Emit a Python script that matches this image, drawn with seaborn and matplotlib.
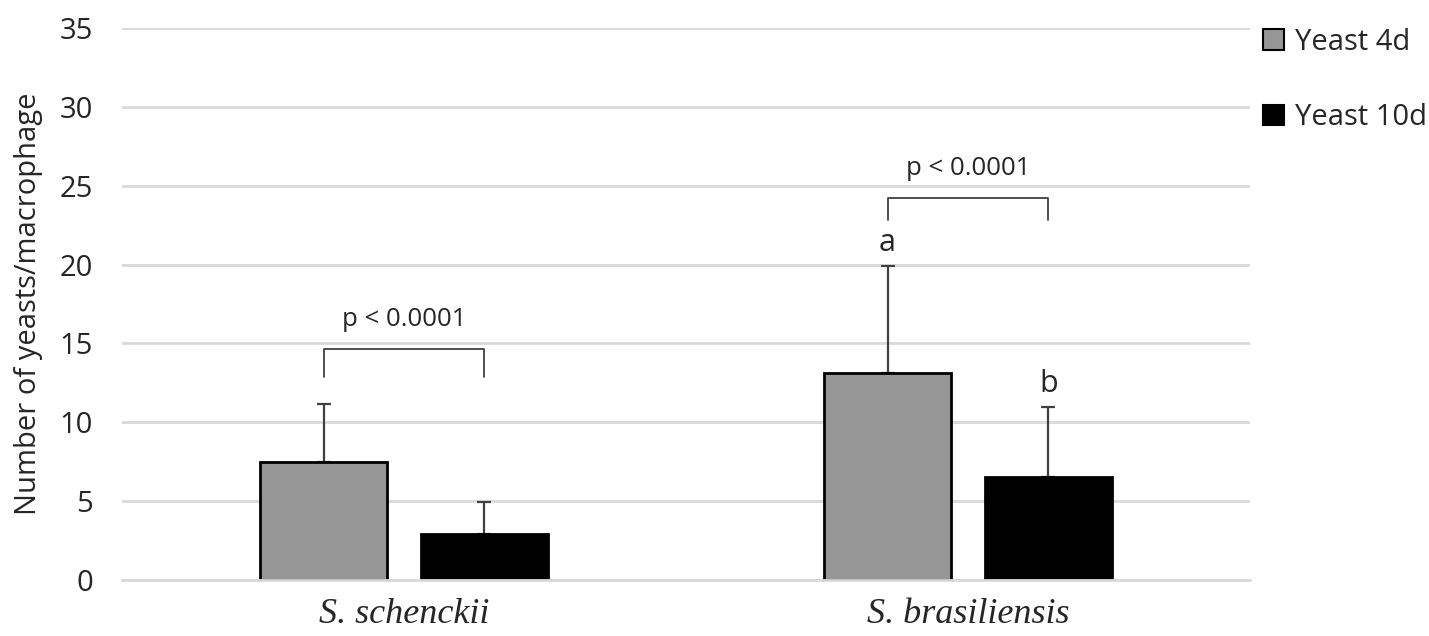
import pandas as pd
import seaborn as sns
import matplotlib
matplotlib.use('Agg')
import matplotlib.pyplot as plt

# values (mean and SD)
especies = ["S. schenckii", "S. brasiliensis"]
fases = ["Yeast 4d", "Yeast 10d"]
media_4d = [7.5, 13.15]
media_10d = [2.9, 6.55]
dp_4d = [3.66, 6.75]
dp_10d = [2.07, 4.4]
letras_4d = ["", "a"]
letras_10d = ["", "b"]
pvalores = ["p < 0.0001", "p < 0.0001"]
chave_base = [12.85, 22.8]   # bottom of bracket legs
chave_topo = [14.65, 24.2]   # bracket top

dados = pd.DataFrame({
    "especie": especies * 2,
    "fase": [fases[0]] * 2 + [fases[1]] * 2,
    "media": media_4d + media_10d,
})

sns.set_style("white")
plt.rcParams['font.family'] = ['Open Sans', 'DejaVu Sans']

fig = plt.figure(figsize=(14.29, 6.36), dpi=100)
ax = fig.add_axes([0.0854, 0.088, 0.7893, 0.868])

sns.barplot(data=dados, x="especie", y="media", hue="fase",
            palette=["#969696", "black"], width=0.57, gap=0.21,
            edgecolor="black", linewidth=2, errorbar=None, ax=ax)

ax.set_ylim(0, 35)
ax.set_xlim(-0.5, 1.5)
ax.set_yticks(range(0, 36, 5))
ax.set_axisbelow(True)
ax.yaxis.grid(True, color="#d9d9d9", linewidth=2)
for lado in ["top", "right", "left"]:
    ax.spines[lado].set_visible(False)
ax.spines["bottom"].set_color("#d9d9d9")
ax.spines["bottom"].set_linewidth(2)

ax.tick_params(axis="y", length=0, pad=21, labelsize=21)
ax.tick_params(axis="x", length=0, pad=13)
for rotulo in ax.get_xticklabels():
    rotulo.set_fontfamily("Liberation Serif")
    rotulo.set_fontstyle("italic")
    rotulo.set_fontsize(26)

ax.set_xlabel("")
ax.set_ylabel("Number of yeasts/macrophage", fontsize=21, labelpad=12)

# error bars (upper only) and letters
centros = []
for cont, dps, letras in zip(ax.containers, [dp_4d, dp_10d], [letras_4d, letras_10d]):
    xs = [b.get_x() + b.get_width() / 2 for b in cont]
    ys = [b.get_height() for b in cont]
    centros.append(xs)
    ax.errorbar(xs, ys, yerr=[[0] * len(dps), dps], fmt="none",
                ecolor="#404040", elinewidth=1.6, capsize=5, capthick=1.6,
                zorder=0.9)
    for x, y, d, l in zip(xs, ys, dps, letras):
        if l:
            ax.text(x, y + d + 0.5, l, ha="center", va="bottom", fontsize=22)

# brackets with p-values
for i in range(len(especies)):
    x1, x2 = centros[0][i], centros[1][i]
    ax.plot([x1, x1, x2, x2], [chave_base[i], chave_topo[i], chave_topo[i], chave_base[i]],
            color="#404040", linewidth=1.3, solid_joinstyle="round")
    ax.text((x1 + x2) / 2, chave_topo[i] + 1.1, pvalores[i], ha="center",
            va="bottom", fontsize=18.5)

ax.get_legend().remove()
handles = [plt.Rectangle((0, 0), 1, 1, facecolor=c, edgecolor="black", linewidth=1.5)
           for c in ["#969696", "black"]]
fig.legend(handles, fases, loc="upper left", bbox_to_anchor=(0.876, 0.975),
           frameon=False, fontsize=21, handlelength=0.72, handleheight=0.72,
           handletextpad=0.35, labelspacing=1.6, borderaxespad=0)

fig.savefig("out.png", dpi=100)
